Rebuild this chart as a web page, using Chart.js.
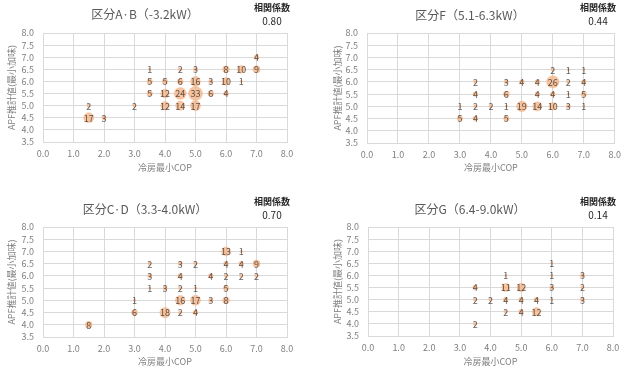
<!DOCTYPE html>
<html>
<head>
<meta charset="utf-8">
<script src="https://cdn.jsdelivr.net/npm/chart.js@4.4.1/dist/chart.umd.min.js"></script>
<style>
  body { margin: 0; background: #fff; }
  #wrap { position: relative; width: 627px; height: 368px; overflow: hidden; font-family: 'Noto Sans CJK JP', sans-serif; }
  .panel { position: absolute; }
  .panel canvas { position: absolute; left: 0; top: 0; }
  .ttl { position: absolute; transform: translateX(-50%); white-space: nowrap; font-size: 12px; line-height: 14px; color: #595959; }
  .corr { position: absolute; transform: translateX(-50%); white-space: nowrap; text-align: center; color: #262626; }
  .corr b { display: block; font-size: 9px; line-height: 13px; }
  .corr span { display: block; font-size: 10px; line-height: 14px; }
</style>
</head>
<body>
<div id="wrap"></div>
<script>
// 区分A・B
var abX = [1.5, 1.5, 2.0, 3.0, 3.5, 3.5, 3.5, 4.0, 4.0, 4.0, 4.5, 4.5, 4.5, 4.5, 5.0, 5.0, 5.0, 5.0, 5.5, 5.5, 6.0, 6.0, 6.0, 6.5, 6.5, 7.0, 7.0];
var abY = [5.0, 4.5, 4.5, 5.0, 6.5, 6.0, 5.5, 6.0, 5.5, 5.0, 6.5, 6.0, 5.5, 5.0, 6.5, 6.0, 5.5, 5.0, 6.0, 5.5, 6.5, 6.0, 5.5, 6.5, 6.0, 7.0, 6.5];
var abN = [2, 17, 3, 2, 1, 5, 5, 5, 12, 12, 2, 6, 24, 14, 3, 16, 33, 17, 3, 6, 8, 10, 4, 10, 1, 4, 9];

// 区分F
var fX = [3.0, 3.0, 3.5, 3.5, 3.5, 3.5, 4.0, 4.5, 4.5, 4.5, 4.5, 5.0, 5.0, 5.5, 5.5, 5.5, 6.0, 6.0, 6.0, 6.0, 6.5, 6.5, 6.5, 6.5, 7.0, 7.0, 7.0, 7.0];
var fY = [5.0, 4.5, 6.0, 5.5, 5.0, 4.5, 5.0, 6.0, 5.5, 5.0, 4.5, 6.0, 5.0, 6.0, 5.5, 5.0, 6.5, 6.0, 5.5, 5.0, 6.5, 6.0, 5.5, 5.0, 6.5, 6.0, 5.5, 5.0];
var fN = [1, 5, 2, 4, 2, 4, 2, 3, 6, 1, 5, 4, 19, 4, 4, 14, 2, 26, 4, 10, 1, 2, 1, 3, 1, 4, 5, 1];

// 区分C・D
var cdX = [1.5, 3.0, 3.0, 3.5, 3.5, 3.5, 4.0, 4.0, 4.5, 4.5, 4.5, 4.5, 4.5, 5.0, 5.0, 5.0, 5.0, 5.5, 5.5, 6.0, 6.0, 6.0, 6.0, 6.0, 6.5, 6.5, 6.5, 7.0, 7.0];
var cdY = [4.0, 5.0, 4.5, 6.5, 6.0, 5.5, 5.5, 4.5, 6.5, 6.0, 5.5, 5.0, 4.5, 6.5, 5.5, 5.0, 4.5, 6.0, 5.0, 7.0, 6.5, 6.0, 5.5, 5.0, 7.0, 6.5, 6.0, 6.5, 6.0];
var cdN = [8, 1, 6, 2, 3, 1, 3, 18, 3, 4, 2, 16, 2, 2, 1, 17, 4, 4, 3, 13, 4, 2, 5, 8, 1, 4, 2, 9, 2];

// 区分G
var gX = [3.5, 3.5, 3.5, 4.0, 4.5, 4.5, 4.5, 4.5, 5.0, 5.0, 5.0, 5.5, 5.5, 6.0, 6.0, 6.0, 6.0, 7.0, 7.0, 7.0];
var gY = [5.5, 5.0, 4.0, 5.0, 6.0, 5.5, 5.0, 4.5, 5.5, 5.0, 4.5, 5.0, 4.5, 6.5, 6.0, 5.5, 5.0, 6.0, 5.5, 5.0];
var gN = [4, 2, 2, 2, 1, 11, 4, 2, 12, 4, 4, 4, 12, 1, 1, 3, 1, 3, 2, 3];

var titles = ['区分A·B（-3.2kW）', '区分F（5.1-6.3kW）', '区分C·D（3.3-4.0kW）', '区分G（6.4-9.0kW）'];
var corrs = ['0.80', '0.44', '0.70', '0.14'];
var xTicks = [0, 1, 2, 3, 4, 5, 6, 7, 8];
var yTicks = [3.5, 4.0, 4.5, 5.0, 5.5, 6.0, 6.5, 7.0, 7.5, 8.0];

var series = [[abX, abY, abN], [fX, fY, fN], [cdX, cdY, cdN], [gX, gY, gN]];

// panel placement
var panels = [
  {x: 0,   y: 0,   w: 313, h: 184, l: 43, r: 287, t: 33, b: 142, yT: 12, xT: 168, tx: 145, ty: 14, cx: 272, ct: 1},
  {x: 313, y: 0,   w: 314, h: 184, l: 54, r: 302, t: 33, b: 143, yT: 25, xT: 168, tx: 157, ty: 15, cx: 285, ct: 1},
  {x: 0,   y: 184, w: 313, h: 184, l: 43, r: 287, t: 43, b: 153, yT: 12, xT: 178, tx: 145, ty: 25, cx: 272, ct: 11},
  {x: 313, y: 184, w: 314, h: 184, l: 55, r: 300, t: 43, b: 152, yT: 25, xT: 178, tx: 157, ty: 25, cx: 285, ct: 11}
];

var fontFam = "'Noto Sans CJK JP', sans-serif";
var tickCol = '#7F7F7F';
var gridCol = '#D9D9D9';

// count labels on top of each bubble, multiplied so they pick up the bubble tint
var countLabels = {
  id: 'countLabels',
  afterDatasetsDraw: function (chart) {
    var ctx = chart.ctx;
    var meta = chart.getDatasetMeta(0);
    var ds = chart.data.datasets[0];
    ctx.save();
    ctx.globalCompositeOperation = 'multiply';
    ctx.font = '9px ' + fontFam;
    ctx.fillStyle = '#666666';
    ctx.textAlign = 'center';
    ctx.textBaseline = 'middle';
    meta.data.forEach(function (pt, i) {
      ctx.fillText(String(ds.data[i].n), pt.x, pt.y + 0.5);
    });
    ctx.restore();
  }
};

var wrap = document.getElementById('wrap');

panels.forEach(function (p, k) {
  var div = document.createElement('div');
  div.className = 'panel';
  div.style.left = p.x + 'px';
  div.style.top = p.y + 'px';
  div.style.width = p.w + 'px';
  div.style.height = p.h + 'px';

  var cv = document.createElement('canvas');
  cv.width = p.w;
  cv.height = p.h;
  div.appendChild(cv);

  var ttl = document.createElement('div');
  ttl.className = 'ttl';
  ttl.style.left = p.tx + 'px';
  ttl.style.top = (p.ty - 7) + 'px';
  ttl.textContent = titles[k];
  div.appendChild(ttl);

  var corr = document.createElement('div');
  corr.className = 'corr';
  corr.style.left = p.cx + 'px';
  corr.style.top = p.ct + 'px';
  corr.innerHTML = '<b>相関係数</b><span>' + corrs[k] + '</span>';
  div.appendChild(corr);

  wrap.appendChild(div);

  var xs = series[k][0], ys = series[k][1], ns = series[k][2];
  var pts = xs.map(function (x, i) {
    return {x: x, y: ys[i], r: 1.22 * Math.sqrt(ns[i]), n: ns[i]};
  });

  new Chart(cv, {
    type: 'bubble',
    data: {
      datasets: [{
        data: pts,
        backgroundColor: 'rgba(244,177,131,0.75)',
        borderColor: 'rgba(240,165,115,0.6)',
        borderWidth: 0.5
      }]
    },
    options: {
      responsive: false,
      animation: false,
      events: [],
      layout: {padding: {left: 0, top: p.t, right: p.w - p.r, bottom: 0}},
      plugins: {legend: {display: false}, tooltip: {enabled: false}, title: {display: false}},
      scales: {
        x: {
          type: 'linear', min: 0, max: 8,
          afterFit: function (s) { s.height = p.h - p.b; },
          afterBuildTicks: function (s) { s.ticks = xTicks.map(function (v) { return {value: v}; }); },
          ticks: {
            autoSkip: false, maxRotation: 0,
            padding: 6, color: tickCol, font: {size: 9, family: fontFam},
            callback: function (v) { return Number(v).toFixed(1); }
          },
          grid: {color: gridCol, drawTicks: false},
          border: {color: gridCol},
          title: {
            display: true, text: '冷房最小COP', color: tickCol,
            font: {size: 9, family: fontFam, lineHeight: 1.2},
            padding: {top: 0, bottom: p.h - p.xT - 5.4}
          }
        },
        y: {
          type: 'linear', min: 3.5, max: 8,
          afterFit: function (s) { s.width = p.l; },
          afterBuildTicks: function (s) { s.ticks = yTicks.map(function (v) { return {value: v}; }); },
          ticks: {
            autoSkip: false,
            padding: 9, color: tickCol, font: {size: 9, family: fontFam},
            callback: function (v) { return Number(v).toFixed(1); }
          },
          grid: {color: gridCol, drawTicks: false},
          border: {color: gridCol},
          title: {
            display: true, text: 'APF推計値(最小加味)', color: tickCol,
            font: {size: 9, family: fontFam, lineHeight: 1.2},
            padding: {top: p.yT - 5.4, bottom: 0}
          }
        }
      }
    },
    plugins: [countLabels]
  });
});
</script>
</body>
</html>
